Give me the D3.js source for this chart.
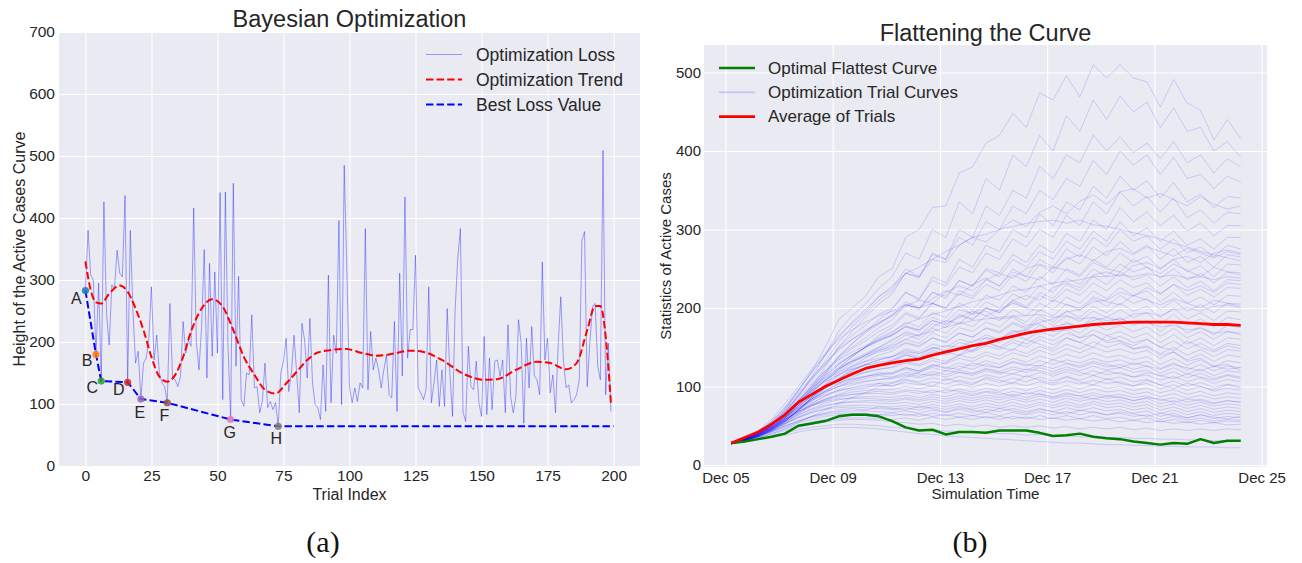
<!DOCTYPE html>
<html><head><meta charset="utf-8">
<script src="https://cdn.jsdelivr.net/npm/d3@7"></script>
<style>body{margin:0;background:#fff;}</style>
</head><body><script>
// ---------------- DATA: panel (a) ----------------
const lossValues = [283,380,308,300,180,295,137,426,246,195,292,286,348,311,305,436,135,380,250,166,
185,108,166,174,203,289,171,211,150,134,128,102,262,142,139,128,144,233,182,203,
193,416,201,155,224,349,142,327,177,313,182,441,107,442,193,75,456,161,306,107,
96,150,147,244,126,128,86,104,166,94,104,91,102,64,150,169,206,120,150,211,
150,86,230,203,142,238,134,99,94,75,163,88,308,102,211,182,396,99,485,316,
128,102,126,104,134,126,383,123,217,155,174,155,126,155,179,115,110,233,88,311,
145,434,174,220,220,340,126,118,107,123,289,102,134,171,96,155,96,254,150,80,
252,335,383,86,72,193,128,123,169,102,80,209,83,174,91,169,171,145,171,86,
228,112,86,112,236,198,69,206,126,225,145,139,115,329,171,206,118,147,86,193,
273,171,126,131,102,107,115,139,364,378,128,198,257,262,161,139,509,115,198,88];
const trendX = [0,2,4,6,9,13,16,19,22,25,28,31,34,37,40,44,48,52,56,60,64,68,72,76,80,84,88,93,98,105,110,115,123,128,135,143,151,156,163,171,176,182,186,190,193,195,197,199];
const trendY = [330,284,264,262,278,291,281,254,219,176,144,136,147,176,217,254,269,257,219,176,147,123,117,133,152,171,183,187,189,182,178,180,186,184,171,149,139,140,155,168,166,156,166,219,258,258,209,101];
const bestX = [0,4,6,16,21,31,55,73];
const bestY = [283,180,137,135,108,102,75,64];
const bestLabels = ["A","B","C","D","E","F","G","H"];
const bestLineEndX = 200;
const lossXTicks = [0,25,50,75,100,125,150,175,200];
const lossYTicks = [0,100,200,300,400,500,600,700];
const legendA = ["Optimization Loss","Optimization Trend","Best Loss Value"];

// ---------------- DATA: panel (b) ----------------
const simStart = "2020-12-05T05:17:00";
const simStepHours = 12;
const optimalCurve = [28,30,33,36,40,50,53,56,62,64,64,62,56,48,44,45,39,42,42,41,44,44,44,41,37,38,40,36,34,33,30,28,26,28,27,33,28,31,31];
const averageCurve = [28,35,42,52,64,80,90,100,108,116,123,127,130,133,135,140,144,148,152,155,160,164,168,171,173,175,177,179,180,181,182,182,182,182,181,180,179,179,178];
const trialCurves = [
[28,34,42,52,70,95,120,150,185,200,215,240,250,290,300,328,330,372,380,410,420,448,430,474,465,496,469,510,493,510,493,488,456,491,461,452,414,440,416],
[28,33,40,50,66,88,112,140,170,190,205,225,240,270,262,300,290,335,320,365,350,395,380,420,400,445,425,465,440,470,450,462,430,455,425,430,400,412,392],
[27,32,39,48,62,80,100,125,150,170,188,205,218,245,238,270,262,300,290,330,318,350,340,380,365,395,385,420,400,418,398,410,390,412,385,395,372,390,380],
[28,34,42,55,72,95,118,140,165,180,195,215,225,250,240,268,262,290,280,310,300,330,320,350,338,365,355,388,370,400,382,395,370,392,365,370,352,368,360],
[27,31,37,46,58,76,95,115,138,155,170,185,198,220,210,240,232,262,252,280,272,300,290,320,305,335,325,355,340,368,350,362,340,360,335,345,328,342,340],
[28,33,41,52,68,88,108,128,150,165,178,192,200,220,212,235,228,252,245,270,262,288,278,300,290,318,305,335,320,348,330,342,322,340,315,325,308,322,320],
[27,32,38,47,60,78,98,118,138,150,162,175,185,205,198,220,212,235,228,250,245,268,258,280,270,295,285,312,300,328,310,322,305,318,298,308,292,305,305],
[28,34,43,55,72,92,112,130,148,160,170,182,190,208,200,220,215,235,228,248,240,262,252,272,262,285,275,298,285,310,292,302,285,298,280,288,275,290,290],
[27,31,37,45,56,70,86,104,122,138,150,165,175,192,186,206,200,222,215,236,228,250,240,262,252,275,265,290,278,300,285,292,275,288,270,278,265,280,275],
[28,33,40,50,64,82,100,118,135,148,158,170,178,194,188,206,200,218,212,230,222,242,234,255,245,265,256,278,266,285,270,280,262,276,258,266,252,268,265],
[27,32,39,48,61,78,96,112,128,140,150,160,168,182,176,194,188,206,198,216,210,228,220,240,230,250,242,262,252,270,258,266,250,262,246,254,240,256,255],
[28,33,41,51,66,84,100,116,130,140,150,158,165,178,172,188,182,198,192,208,200,218,210,228,220,238,230,250,240,256,246,252,238,250,236,244,232,246,245],
[27,31,36,44,55,70,86,102,118,130,140,150,158,170,165,180,175,190,185,200,194,210,202,220,212,230,222,240,230,246,236,242,228,240,226,234,222,236,235],
[28,34,42,53,68,86,104,120,134,144,152,160,165,176,170,184,178,192,186,200,194,208,200,216,208,224,216,232,222,236,226,232,218,230,216,224,214,226,225],
[27,32,38,47,60,76,92,108,122,132,140,148,154,166,160,174,168,182,176,190,184,198,190,206,198,214,206,222,212,226,216,222,208,220,206,214,204,216,215],
[28,33,40,50,63,80,96,110,122,132,140,146,150,160,155,168,162,175,170,182,176,190,182,198,190,205,197,212,202,216,206,212,198,210,196,204,194,206,205],
[27,32,39,48,60,74,88,102,115,124,132,140,145,155,150,162,156,168,163,175,170,182,175,190,182,196,188,202,194,206,196,202,188,200,186,194,184,196,195],
[28,34,42,52,66,82,98,112,124,132,138,144,148,156,152,162,157,168,163,174,168,180,173,186,178,190,183,196,188,198,188,194,180,192,178,186,176,188,185],
[27,31,37,45,56,70,84,98,110,120,128,134,138,148,144,154,150,160,156,166,160,172,165,178,170,182,175,188,180,188,178,184,170,182,168,176,166,178,175],
[28,33,41,51,64,80,95,108,118,126,132,136,138,146,142,150,146,156,152,162,156,166,160,170,164,175,168,180,172,178,170,176,164,174,162,170,160,170,168],
[27,32,38,46,58,72,86,98,108,116,122,128,132,140,136,146,142,150,146,156,150,160,154,164,158,168,162,172,165,170,162,168,156,166,154,162,152,162,160],
[28,34,42,52,65,80,94,106,115,122,127,131,133,140,136,144,140,148,144,152,147,156,150,160,153,162,156,166,158,164,156,160,150,158,148,155,146,155,152],
[27,31,37,45,56,69,82,94,104,112,118,122,125,132,128,136,132,140,136,144,139,148,142,151,145,154,148,157,150,155,148,152,142,150,140,147,138,147,145],
[28,33,40,49,61,75,88,99,108,114,118,122,124,130,126,133,129,136,132,140,135,143,138,146,140,148,143,150,144,148,142,146,136,144,134,141,132,140,138],
[27,32,38,47,58,71,84,95,103,109,113,116,118,124,120,127,123,130,126,133,128,136,131,139,134,141,136,143,137,140,134,138,128,136,127,134,125,133,130],
[28,34,41,50,62,76,88,98,105,110,113,115,116,122,118,124,120,126,122,129,124,131,126,133,128,134,130,136,131,134,128,132,123,130,121,128,120,126,124],
[27,31,36,44,54,66,78,88,96,102,106,109,111,116,113,119,115,121,117,123,119,125,121,127,123,129,124,130,125,128,122,126,117,124,116,122,114,120,118],
[28,33,40,48,59,72,84,93,100,104,107,109,110,114,111,116,112,118,114,120,116,122,118,124,119,125,120,126,121,124,118,121,113,119,111,117,110,115,112],
[27,32,38,46,56,68,79,88,94,99,102,104,105,109,106,111,108,113,109,115,111,116,112,118,113,119,114,120,115,118,112,115,108,113,106,111,104,109,106],
[28,34,41,49,60,72,82,90,95,98,100,101,101,105,102,106,103,108,104,110,105,111,106,112,107,113,108,114,109,112,106,109,102,107,100,105,99,103,100],
[27,31,37,44,54,65,75,83,89,93,95,96,96,100,97,101,98,103,99,104,100,105,101,106,102,107,103,108,104,106,101,104,97,102,95,100,94,98,95],
[28,33,39,47,57,68,77,84,88,90,91,91,90,94,91,95,92,97,93,98,94,99,95,100,96,101,97,102,98,100,95,98,92,96,90,94,88,92,90],
[27,32,37,44,53,63,72,79,83,86,87,87,86,89,86,90,87,92,88,93,89,94,90,95,91,96,92,97,93,95,90,93,87,91,85,89,84,87,85],
[28,34,40,48,58,68,76,81,84,85,85,84,83,86,83,87,84,88,85,89,86,90,86,91,87,92,88,92,88,90,86,88,82,86,80,84,79,82,80],
[27,31,36,43,52,61,69,75,79,81,82,82,81,84,81,84,81,85,82,86,83,87,83,88,84,88,84,89,85,87,82,85,78,82,76,80,75,78,76],
[28,33,39,46,55,64,71,76,79,80,80,79,78,80,77,81,78,82,79,83,79,84,80,84,80,85,81,85,81,83,78,81,74,78,72,76,71,74,72],
[27,32,37,44,52,60,67,72,75,76,76,75,74,76,73,77,74,78,74,79,75,80,75,80,76,81,76,81,77,79,74,77,70,74,68,72,67,70,68],
[28,33,38,45,53,61,67,71,73,74,73,72,71,73,70,74,71,75,71,75,72,76,72,77,73,77,73,78,73,75,70,73,66,70,64,68,63,66,64],
[27,31,36,42,49,56,62,66,68,69,69,68,67,69,66,70,67,71,67,71,68,72,68,72,68,73,69,73,69,71,66,69,62,66,60,64,59,62,60],
[28,32,37,43,50,56,61,64,66,66,65,64,63,65,62,66,63,66,63,67,63,67,64,68,64,68,64,68,64,66,62,64,58,62,57,60,56,58,57],
[27,31,35,40,46,51,55,58,59,60,60,59,58,60,57,61,58,61,58,62,58,62,59,63,59,63,59,63,59,61,57,60,55,58,54,57,54,56,55],
[28,31,35,39,44,48,52,55,57,58,58,57,55,54,52,53,50,52,49,51,48,50,48,50,47,49,46,48,46,48,45,47,44,46,44,46,44,46,45],
[27,30,33,37,41,45,48,50,52,52,51,50,48,47,45,45,43,43,41,42,40,40,38,39,37,37,36,36,35,35,34,34,33,33,32,32,31,31,30],
[27,30,32,35,38,42,45,47,48,48,47,46,44,42,40,39,37,36,35,34,33,32,31,30,29,28,28,27,26,26,25,25,24,24,23,23,23,22,22],
[27,31,35,40,46,54,62,70,78,86,92,100,104,112,118,126,130,140,146,155,160,170,172,182,186,195,198,208,210,220,215,226,218,230,222,228,220,232,230],
[28,35,44,58,78,100,122,142,160,172,182,190,196,204,200,206,198,202,192,196,186,188,178,180,170,172,162,166,156,158,148,150,140,144,132,136,126,128,120],
[27,33,40,48,60,74,88,100,110,122,128,126,134,142,138,150,144,140,152,158,150,146,160,154,148,162,156,150,165,158,152,160,150,146,158,150,144,152,148],
[28,34,42,54,70,90,110,128,146,160,172,180,192,204,200,212,222,216,230,238,228,246,240,236,252,248,240,258,250,246,262,252,244,256,248,240,252,246,242],
[27,32,38,46,56,66,76,84,90,96,98,104,100,108,104,100,110,106,102,112,108,104,114,108,104,112,106,102,110,104,100,108,102,98,104,100,96,102,98],
[28,33,40,50,63,78,94,108,120,134,142,150,160,168,164,176,184,180,194,200,196,210,216,210,226,232,226,242,246,240,254,258,250,262,266,258,270,274,270],
[27,33,41,52,68,88,110,132,156,176,192,210,222,244,240,262,258,280,290,284,300,312,304,322,330,320,336,344,332,348,352,340,346,338,330,342,332,326,330],
[28,32,37,43,50,56,62,66,70,72,70,74,72,70,75,72,68,73,70,67,72,69,66,71,68,65,70,67,64,68,65,62,66,63,60,64,61,59,62],
[27,32,39,47,58,70,82,92,100,108,112,118,116,124,120,128,124,122,130,126,124,132,128,126,134,130,126,132,128,124,130,126,122,128,124,120,126,122,124],
[28,34,42,52,66,82,98,114,128,140,150,158,166,176,172,184,180,188,196,190,198,206,200,196,210,204,200,214,208,204,216,210,204,212,206,200,210,206,202],
[27,31,37,45,56,70,86,100,114,126,136,146,152,160,166,170,176,180,184,186,188,190,190,192,188,190,186,188,184,186,180,182,176,178,172,174,168,170,166],
[28,33,40,48,58,68,76,82,86,90,92,94,92,96,94,92,96,94,90,94,92,88,92,90,86,90,88,84,88,86,82,86,84,80,84,82,78,82,80],
[27,33,40,50,64,82,102,120,138,154,168,180,190,202,210,206,220,228,222,236,244,238,250,256,250,262,268,260,272,276,268,278,272,266,276,270,264,272,268],
[28,34,41,50,61,73,84,94,100,106,110,114,112,118,116,114,120,118,116,122,118,116,122,120,116,122,118,114,120,116,112,118,114,110,116,112,108,114,110],
[27,32,38,46,57,70,84,98,110,120,128,134,138,144,142,148,152,150,158,162,160,168,172,168,176,180,176,184,188,184,192,194,190,198,200,196,202,204,200],
[28,32,36,42,48,54,58,62,64,65,66,64,66,63,65,62,64,61,63,60,62,59,61,58,60,57,59,56,58,55,57,54,56,53,55,52,54,51,52],
[28,34,43,56,74,96,118,140,162,182,198,214,228,244,252,262,272,280,290,294,300,304,308,310,312,308,312,306,304,300,296,292,288,282,278,272,268,264,260],
[27,32,39,48,60,76,92,108,124,138,150,162,170,180,186,192,196,202,208,212,216,222,224,228,232,234,236,240,240,242,240,244,240,242,238,240,236,240,238]
];
const simYTicks = [0,100,200,300,400,500];
const legendB = ["Optimal Flattest Curve","Optimization Trial Curves","Average of Trials"];

// ---------------- DRAWING ----------------
const FONT = '"Liberation Sans", Arial, sans-serif';
const TXT = "#262626";
const BG = "#EAEAF2";
const svg = d3.select("body").append("svg").attr("width",1302).attr("height",563).style("display","block");

function styleAxis(g, fs){
  g.select(".domain").remove();
  g.selectAll(".tick line").attr("stroke","#fff").attr("stroke-width",1.1);
  g.selectAll(".tick text").attr("fill",TXT).style("font-family",FONT).style("font-size",fs+"px");
}
function addText(x,y,str,fs,anchor,extra){
  const t = svg.append("text").attr("x",x).attr("y",y).text(str)
    .attr("fill",TXT).style("font-family",FONT).style("font-size",fs+"px").attr("text-anchor",anchor||"start");
  if(extra) extra(t);
  return t;
}

// ----- panel (a) -----
const A = {x0:59,x1:640,y0:32,y1:466};
const xA = d3.scaleLinear().domain([-10,210]).range([A.x0,A.x1]);
const yA = d3.scaleLinear().domain([0,700]).range([A.y1,A.y0]);
svg.append("rect").attr("x",A.x0).attr("y",A.y0).attr("width",A.x1-A.x0).attr("height",A.y1-A.y0).attr("fill",BG);
svg.append("g").attr("transform",`translate(0,${A.y1})`)
  .call(d3.axisBottom(xA).tickValues(lossXTicks).tickSizeInner(-(A.y1-A.y0)).tickSizeOuter(0).tickPadding(4))
  .call(styleAxis,15.5);
svg.append("g").attr("transform",`translate(${A.x0},0)`)
  .call(d3.axisLeft(yA).tickValues(lossYTicks).tickSizeInner(-(A.x1-A.x0)).tickSizeOuter(0).tickPadding(4))
  .call(styleAxis,15.5);

svg.append("path").datum(lossValues)
  .attr("d", d3.line().x((d,i)=>xA(i)).y(d=>yA(d)))
  .attr("fill","none").attr("stroke","#0000ff").attr("stroke-opacity",0.45).attr("stroke-width",0.8);

const trendPts = trendX.map((x,i)=>[x,trendY[i]]);
svg.append("path").datum(trendPts)
  .attr("d", d3.line().curve(d3.curveMonotoneX).x(d=>xA(d[0])).y(d=>yA(d[1])))
  .attr("fill","none").attr("stroke","#ff0000").attr("stroke-width",2).attr("stroke-dasharray","7.4,3.2");

const bestPts = bestX.map((x,i)=>[x,bestY[i]]).concat([[bestLineEndX, bestY[bestY.length-1]]]);
svg.append("path").datum(bestPts)
  .attr("d", d3.line().x(d=>xA(d[0])).y(d=>yA(d[1])))
  .attr("fill","none").attr("stroke","#0000ff").attr("stroke-width",2).attr("stroke-dasharray","7.4,3.2");

const markerColors = d3.schemeCategory10;
const labelOffsets = [[-9,13],[-9,12],[-9,12],[-9,13],[-1,19],[-3,18],[-1,18],[-2,18]];
bestX.forEach((x,i)=>{
  svg.append("circle").attr("cx",xA(x)).attr("cy",yA(bestY[i])).attr("r",3.6)
    .attr("fill",markerColors[i]).attr("fill-opacity",0.85);
  addText(xA(x)+labelOffsets[i][0], yA(bestY[i])+labelOffsets[i][1], bestLabels[i], 16, "middle");
});

// legend (a)
const legAStyles = [
  {stroke:"#0000ff",op:0.35,w:1,dash:null},
  {stroke:"#ff0000",op:1,w:2,dash:"7.4,3.2"},
  {stroke:"#0000ff",op:1,w:2,dash:"7.4,3.2"}];
legendA.forEach((lab,i)=>{
  const y = 54.5 + i*25;
  const l = svg.append("line").attr("x1",426).attr("x2",462).attr("y1",y).attr("y2",y)
    .attr("stroke",legAStyles[i].stroke).attr("stroke-opacity",legAStyles[i].op).attr("stroke-width",legAStyles[i].w);
  if(legAStyles[i].dash) l.attr("stroke-dasharray",legAStyles[i].dash);
  addText(476, y, lab, 17.5, "start", t=>t.attr("dominant-baseline","central"));
});

addText((A.x0+A.x1)/2, 27, "Bayesian Optimization", 23.5, "middle");
addText((A.x0+A.x1)/2, 499.5, "Trial Index", 16, "middle");
addText(0,0,"Height of the Active Cases Curve",16,"middle",t=>t.attr("transform",`translate(24.5,${(A.y0+A.y1)/2}) rotate(-90)`));

// ----- panel (b) -----
const B = {x0:704,x1:1267,y0:45,y1:467};
const t0 = new Date(simStart);
const day = 864e5;
const dec05 = new Date(2020,11,5);
const times = averageCurve.map((_,i)=> new Date(+t0 + i*simStepHours*3600e3));
const xB = d3.scaleTime().domain([new Date(+dec05 - 0.8*day), new Date(+dec05 + 20.2*day)]).range([B.x0,B.x1]);
const yB = d3.scaleLinear().domain([-2.5,535]).range([B.y1,B.y0]);
svg.append("rect").attr("x",B.x0).attr("y",B.y0).attr("width",B.x1-B.x0).attr("height",B.y1-B.y0).attr("fill",BG);
const dateTicks = d3.range(0,21,4).map(d=>new Date(+dec05 + d*day));
svg.append("g").attr("transform",`translate(0,${B.y1})`)
  .call(d3.axisBottom(xB).tickValues(dateTicks).tickFormat(d3.timeFormat("%b %d")).tickSizeInner(-(B.y1-B.y0)).tickSizeOuter(0).tickPadding(5))
  .call(styleAxis,15);
svg.append("g").attr("transform",`translate(${B.x0},0)`)
  .call(d3.axisLeft(yB).tickValues(simYTicks).tickSizeInner(-(B.x1-B.x0)).tickSizeOuter(0).tickPadding(3))
  .call(styleAxis,15);

const lineB = d3.line().x((d,i)=>xB(times[i])).y(d=>yB(d));
svg.append("g").selectAll("path").data(trialCurves).join("path")
  .attr("d", lineB).attr("fill","none").attr("stroke","#0000ff").attr("stroke-opacity",0.17).attr("stroke-width",0.9);
svg.append("path").datum(optimalCurve).attr("d",lineB).attr("fill","none").attr("stroke","#008000").attr("stroke-width",2.5).attr("stroke-linejoin","round");
svg.append("path").datum(averageCurve).attr("d",lineB).attr("fill","none").attr("stroke","#ff0000").attr("stroke-width",2.8).attr("stroke-linejoin","round");

const legBStyles = [
  {stroke:"#008000",op:1,w:2.5},
  {stroke:"#0000ff",op:0.15,w:2},
  {stroke:"#ff0000",op:1,w:2.8}];
legendB.forEach((lab,i)=>{
  const y = 68 + i*24.3;
  svg.append("line").attr("x1",719).attr("x2",755).attr("y1",y).attr("y2",y)
    .attr("stroke",legBStyles[i].stroke).attr("stroke-opacity",legBStyles[i].op).attr("stroke-width",legBStyles[i].w);
  addText(768, y, lab, 17, "start", t=>t.attr("dominant-baseline","central"));
});

addText((B.x0+B.x1)/2, 41, "Flattening the Curve", 23.5, "middle");
addText((B.x0+B.x1)/2, 499, "Simulation Time", 15.2, "middle");
addText(0,0,"Statistics of Active Cases",15,"middle",t=>t.attr("transform",`translate(671,${(B.y0+B.y1)/2}) rotate(-90)`));

// captions
const serif = '"Liberation Serif", "DejaVu Serif", serif';
svg.append("text").attr("x",323).attr("y",552).attr("text-anchor","middle").text("(a)")
  .style("font-family",serif).style("font-size","30px").attr("fill","#111");
svg.append("text").attr("x",970).attr("y",552).attr("text-anchor","middle").text("(b)")
  .style("font-family",serif).style("font-size","30px").attr("fill","#111");
</script></body></html>
